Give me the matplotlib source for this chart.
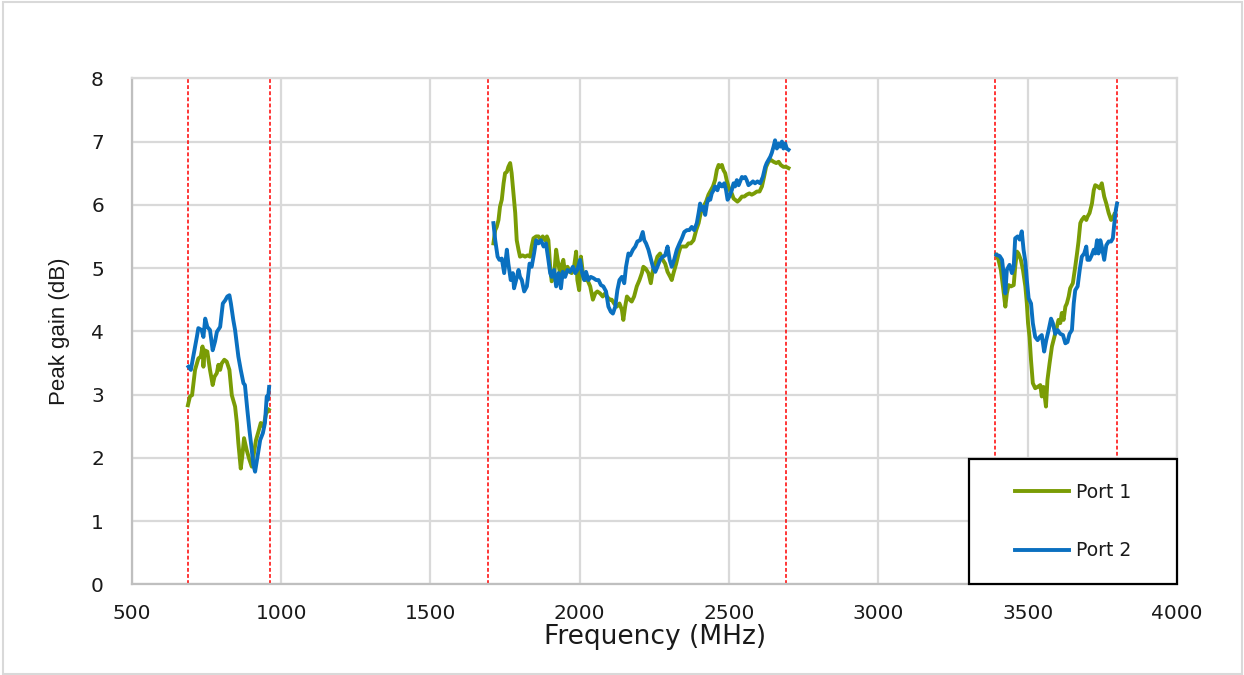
import numpy as np
import matplotlib
matplotlib.use("Agg")
import matplotlib.pyplot as plt
from matplotlib import font_manager
from matplotlib.patches import Rectangle

# low band (MHz, dB)
low_freq_p1 = [688, 695, 702, 712, 723, 731, 737, 740, 744, 753,
               762, 771, 777, 785, 790, 796, 801, 810, 818, 827,
               835, 846, 852, 857, 865, 870, 876, 885, 894, 902,
               910, 916, 924, 932, 941, 950, 959]
low_gain_p1 = [2.83, 2.97, 2.99, 3.39, 3.57, 3.60, 3.76, 3.44, 3.70, 3.68,
               3.39, 3.15, 3.28, 3.34, 3.47, 3.39, 3.49, 3.55, 3.52, 3.39,
               2.99, 2.81, 2.55, 2.23, 1.83, 2.02, 2.31, 2.12, 1.97, 1.86,
               2.10, 2.28, 2.41, 2.55, 2.49, 2.70, 2.76]
low_freq_p2 = [690, 698, 704, 718, 723, 734, 740, 746, 753, 762,
               771, 779, 785, 796, 805, 813, 820, 827, 832, 840,
               846, 857, 865, 874, 879, 887, 894, 902, 907, 913,
               921, 930, 939, 946, 952, 956, 960]
low_gain_p2 = [3.44, 3.39, 3.55, 3.91, 4.05, 4.02, 3.91, 4.20, 4.07, 4.02,
               3.70, 3.84, 3.99, 4.07, 4.44, 4.49, 4.55, 4.57, 4.44, 4.18,
               4.02, 3.60, 3.39, 3.18, 3.15, 2.76, 2.44, 2.12, 1.89, 1.78,
               2.02, 2.28, 2.39, 2.55, 2.97, 2.92, 3.12]

# mid band
mid_freq_p1 = [1711, 1717, 1722, 1728, 1733, 1739, 1745, 1750, 1756, 1761,
               1767, 1772, 1778, 1784, 1789, 1795, 1800, 1809, 1817, 1825,
               1834, 1839, 1845, 1854, 1862, 1870, 1876, 1884, 1890, 1895,
               1901, 1906, 1914, 1921, 1926, 1934, 1940, 1945, 1951, 1959,
               1966, 1973, 1981, 1988, 1992, 1998, 2004, 2010, 2018, 2026,
               2035, 2044, 2052, 2059, 2068, 2077, 2085, 2091, 2100, 2107,
               2115, 2124, 2133, 2141, 2146, 2152, 2158, 2167, 2174, 2182,
               2191, 2200, 2208, 2213, 2221, 2230, 2238, 2245, 2252, 2260,
               2269, 2278, 2286, 2294, 2303, 2308, 2314, 2323, 2331, 2338,
               2347, 2356, 2364, 2372, 2381, 2390, 2398, 2405, 2414, 2423,
               2431, 2439, 2446, 2453, 2459, 2465, 2470, 2476, 2481, 2487,
               2492, 2498, 2504, 2509, 2515, 2520, 2528, 2535, 2543, 2551,
               2559, 2568, 2576, 2584, 2593, 2602, 2610, 2617, 2624, 2632,
               2640, 2649, 2658, 2666, 2673, 2682, 2691, 2699]
mid_gain_p1 = [5.39, 5.60, 5.65, 5.76, 5.97, 6.08, 6.34, 6.50, 6.52, 6.60,
               6.66, 6.50, 6.18, 5.87, 5.44, 5.29, 5.18, 5.20, 5.18, 5.20,
               5.18, 5.34, 5.47, 5.50, 5.50, 5.44, 5.50, 5.44, 5.50, 5.44,
               5.02, 4.79, 4.86, 5.29, 5.13, 4.92, 5.05, 5.13, 4.92, 5.02,
               4.94, 4.92, 5.02, 5.26, 4.81, 4.65, 5.18, 4.94, 4.81, 4.81,
               4.71, 4.50, 4.60, 4.63, 4.60, 4.55, 4.60, 4.55, 4.50, 4.50,
               4.44, 4.39, 4.44, 4.34, 4.18, 4.39, 4.55, 4.50, 4.47, 4.55,
               4.71, 4.81, 4.92, 5.02, 4.99, 4.92, 4.76, 4.97, 5.05, 5.18,
               5.23, 5.13, 5.07, 4.94, 4.86, 4.81, 4.92, 5.07, 5.23, 5.34,
               5.34, 5.34, 5.39, 5.39, 5.44, 5.60, 5.71, 5.87, 5.97, 6.05,
               6.16, 6.23, 6.29, 6.39, 6.55, 6.63, 6.60, 6.63, 6.55, 6.50,
               6.39, 6.29, 6.21, 6.18, 6.10, 6.08, 6.05, 6.08, 6.13, 6.13,
               6.16, 6.18, 6.16, 6.18, 6.21, 6.21, 6.29, 6.44, 6.60, 6.68,
               6.71, 6.68, 6.66, 6.68, 6.63, 6.60, 6.60, 6.58]
mid_freq_p2 = [1711, 1717, 1725, 1731, 1739, 1747, 1756, 1761, 1769, 1776,
               1780, 1787, 1795, 1800, 1806, 1814, 1823, 1832, 1839, 1847,
               1854, 1862, 1870, 1879, 1887, 1895, 1901, 1906, 1914, 1921,
               1929, 1937, 1943, 1951, 1959, 1968, 1977, 1985, 1992, 2001,
               2008, 2015, 2021, 2029, 2037, 2046, 2055, 2063, 2071, 2079,
               2088, 2096, 2104, 2111, 2119, 2126, 2133, 2141, 2149, 2155,
               2163, 2169, 2178, 2186, 2193, 2202, 2211, 2216, 2222, 2230,
               2239, 2245, 2253, 2260, 2269, 2278, 2286, 2294, 2301, 2308,
               2316, 2325, 2334, 2342, 2350, 2359, 2367, 2375, 2383, 2392,
               2398, 2403, 2409, 2414, 2420, 2426, 2431, 2437, 2442, 2448,
               2453, 2461, 2468, 2476, 2484, 2490, 2495, 2501, 2509, 2515,
               2520, 2526, 2532, 2537, 2543, 2548, 2554, 2559, 2565, 2573,
               2580, 2587, 2595, 2604, 2613, 2621, 2626, 2632, 2638, 2643,
               2649, 2654, 2660, 2666, 2671, 2677, 2682, 2688, 2693, 2699]
mid_gain_p2 = [5.71, 5.44, 5.18, 5.13, 5.15, 4.92, 5.29, 5.07, 4.81, 4.92,
               4.68, 4.81, 4.97, 4.86, 4.81, 4.63, 4.71, 5.07, 5.02, 5.23,
               5.44, 5.39, 5.44, 5.34, 5.39, 5.13, 4.92, 4.86, 4.97, 4.71,
               4.92, 4.68, 4.94, 4.86, 4.97, 4.94, 5.02, 4.92, 4.97, 5.13,
               4.92, 4.81, 4.94, 4.81, 4.86, 4.84, 4.81, 4.81, 4.73, 4.71,
               4.63, 4.39, 4.31, 4.28, 4.39, 4.65, 4.81, 4.86, 4.76, 5.02,
               5.23, 5.20, 5.29, 5.34, 5.42, 5.44, 5.57, 5.44, 5.39, 5.29,
               5.13, 5.02, 4.94, 5.02, 5.13, 5.18, 5.20, 5.34, 5.13, 5.02,
               5.13, 5.29, 5.39, 5.47, 5.57, 5.60, 5.60, 5.65, 5.60, 5.71,
               5.87, 6.02, 5.92, 5.97, 5.84, 6.02, 6.10, 6.08, 6.18, 6.23,
               6.29, 6.23, 6.34, 6.29, 6.34, 6.23, 6.08, 6.13, 6.23, 6.34,
               6.29, 6.39, 6.31, 6.37, 6.44, 6.42, 6.44, 6.39, 6.31, 6.34,
               6.37, 6.34, 6.37, 6.34, 6.44, 6.60, 6.66, 6.71, 6.76, 6.82,
               6.92, 7.02, 6.89, 6.97, 6.92, 7.00, 6.89, 6.97, 6.89, 6.87]

# high band
high_freq_p1 = [3395, 3402, 3410, 3417, 3425, 3430, 3436, 3444, 3453, 3458,
                3464, 3469, 3477, 3484, 3492, 3497, 3501, 3506, 3511, 3517,
                3525, 3533, 3542, 3547, 3553, 3561, 3566, 3573, 3581, 3589,
                3595, 3603, 3609, 3614, 3620, 3626, 3631, 3637, 3642, 3651,
                3659, 3665, 3670, 3676, 3681, 3689, 3696, 3700, 3707, 3715,
                3721, 3726, 3734, 3741, 3748, 3756, 3763, 3771, 3779, 3785,
                3790]
high_gain_p1 = [5.21, 5.13, 4.97, 4.71, 4.39, 4.60, 4.73, 4.71, 4.73, 5.02,
                5.26, 5.23, 5.13, 4.97, 4.71, 4.44, 4.13, 3.91, 3.54, 3.18,
                3.10, 3.12, 3.15, 2.97, 3.12, 2.81, 3.23, 3.49, 3.76, 3.91,
                4.02, 4.18, 4.13, 4.29, 4.18, 4.39, 4.44, 4.55, 4.68, 4.76,
                5.02, 5.23, 5.42, 5.71, 5.76, 5.81, 5.76, 5.81, 5.87, 6.02,
                6.23, 6.31, 6.29, 6.26, 6.34, 6.13, 6.02, 5.87, 5.76, 5.79,
                5.85]
high_freq_p2 = [3395, 3406, 3414, 3419, 3425, 3430, 3439, 3447, 3453, 3458,
                3466, 3473, 3480, 3486, 3492, 3497, 3503, 3511, 3517, 3525,
                3533, 3540, 3547, 3555, 3562, 3570, 3578, 3584, 3592, 3600,
                3609, 3618, 3626, 3633, 3640, 3648, 3654, 3659, 3667, 3674,
                3681, 3689, 3696, 3700, 3707, 3715, 3721, 3726, 3732, 3737,
                3743, 3748, 3756, 3763, 3771, 3779, 3785, 3790, 3795, 3799]
high_gain_p2 = [5.21, 5.19, 5.13, 4.92, 4.60, 4.97, 5.05, 4.92, 5.02, 5.47,
                5.50, 5.45, 5.58, 5.29, 5.10, 4.81, 4.52, 4.44, 4.13, 3.91,
                3.86, 3.91, 3.94, 3.68, 3.86, 4.02, 4.20, 4.13, 3.96, 4.02,
                3.96, 3.94, 3.81, 3.83, 3.96, 4.02, 4.44, 4.65, 4.71, 4.97,
                5.18, 5.23, 5.34, 5.13, 5.13, 5.21, 5.29, 5.23, 5.44, 5.23,
                5.44, 5.34, 5.13, 5.36, 5.42, 5.42, 5.47, 5.71, 5.92, 6.02]

band_edges = [690, 962, 1692, 2692, 3390, 3800]

port_names = ["Port 1", "Port 2"]
port_colors = ["#7A9C05", "#0A70C0"]


def join_bands(*bands):
    # NaN between bands so each port is one line with gaps
    out = []
    for i, b in enumerate(bands):
        if i:
            out.append(np.nan)
        out.extend(b)
    return np.array(out, dtype=float)


freq_p1 = join_bands(low_freq_p1, mid_freq_p1, high_freq_p1)
gain_p1 = join_bands(low_gain_p1, mid_gain_p1, high_gain_p1)
freq_p2 = join_bands(low_freq_p2, mid_freq_p2, high_freq_p2)
gain_p2 = join_bands(low_gain_p2, mid_gain_p2, high_gain_p2)

installed = {f.name for f in font_manager.fontManager.ttflist}
narrow = "DejaVu Sans"
for name in ["Liberation Sans Narrow", "DejaVu Sans Condensed", "Liberation Sans"]:
    if name in installed:
        narrow = name
        break

plt.rcParams["font.family"] = ["DejaVu Sans"]

fig = plt.figure(figsize=(12.44, 6.75), dpi=100)
ax = fig.add_axes([0.1059, 0.1344, 0.8403, 0.7496])

for x in band_edges:
    ax.axvline(x, color="#FF0000", lw=1.1, ls=(0, (2.5, 1.5)), zorder=2)

l1, = ax.plot(freq_p1, gain_p1, color=port_colors[0], lw=2.8, zorder=3)
l2, = ax.plot(freq_p2, gain_p2, color=port_colors[1], lw=2.8, zorder=3)

ax.set_xlim(500, 4000)
ax.set_ylim(0, 8)
ax.set_xticks(np.arange(500, 4001, 500))
ax.set_yticks(np.arange(0, 9, 1))
ax.grid(True, color="#D9D9D9", lw=1.6)
ax.set_axisbelow(True)
ax.tick_params(length=0, labelsize=14.5, colors="#1A1A1A")
ax.tick_params(axis="x", pad=14)
ax.tick_params(axis="y", pad=20)
for s in ["left", "bottom"]:
    ax.spines[s].set_color("#BFBFBF")
    ax.spines[s].set_linewidth(1.6)
for s in ["top", "right"]:
    ax.spines[s].set_color("#D9D9D9")
    ax.spines[s].set_linewidth(1.6)

fig.text(0.5262, 0.0455, "Frequency (MHz)", ha="center", va="baseline",
         fontsize=19, color="#1A1A1A")
fig.text(0.0482, 0.5096, "Peak gain (dB)", rotation=90, ha="center",
         va="center", fontsize=16, color="#1A1A1A", family=[narrow, "DejaVu Sans"])

# legend box in the lower right corner
box = (0.801, 0.0, 0.199, 0.248)
ax.add_patch(Rectangle(box[:2], box[2], box[3], transform=ax.transAxes,
                       facecolor="white", edgecolor="black", lw=1.6,
                       zorder=6, clip_on=False))
leg = ax.legend([l1, l2], port_names, loc="center", bbox_to_anchor=box,
                frameon=False, fontsize=13.5, handlelength=2.9,
                handletextpad=0.35, labelspacing=2.1, borderaxespad=0)
leg.set_zorder(7)
for t in leg.get_texts():
    t.set_color("#1A1A1A")

fig.add_artist(Rectangle((0.0025, 0.0015), 0.9955, 0.995,
                         transform=fig.transFigure, fill=False,
                         edgecolor="#D9D9D9", lw=1.5))

fig.savefig("out.png", dpi=100)
